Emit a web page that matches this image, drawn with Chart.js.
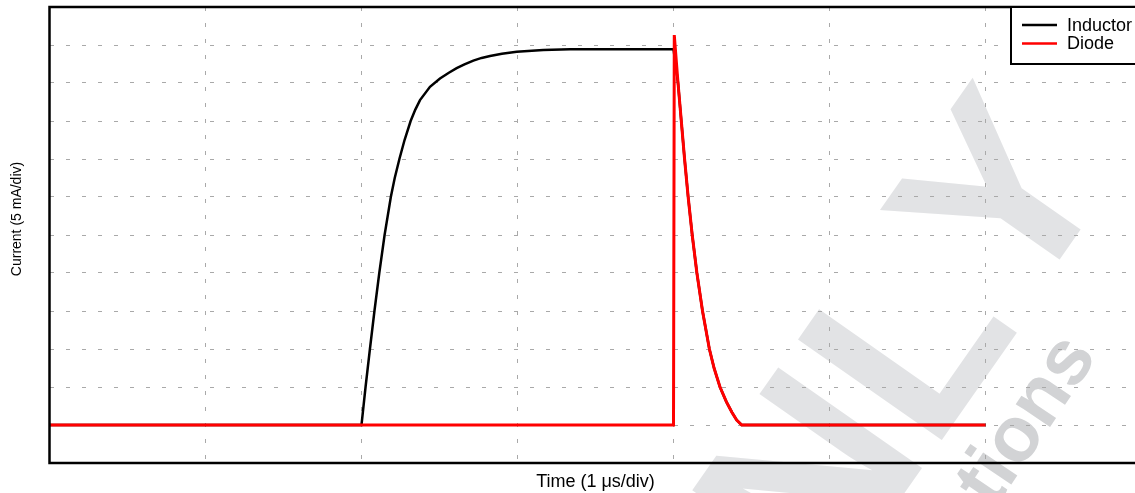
<!DOCTYPE html>
<html>
<head>
<meta charset="utf-8">
<script src="https://cdn.jsdelivr.net/npm/chart.js@4.4.1/dist/chart.umd.min.js"></script>
<style>
  html, body { margin: 0; padding: 0; background: #fff; overflow: hidden; }
  #wrap { width: 1160px; height: 493px; }
</style>
</head>
<body>
<div id="wrap"><canvas id="chart" width="1160" height="493"></canvas></div>
<script>
// all values in divisions: x = 1 us/div, y = 5 mA/div
const inductorTime = [0, 2.0, 2.026, 2.054, 2.083, 2.114, 2.148, 2.188, 2.213, 2.243, 2.276, 2.315, 2.345, 2.375,
    2.439, 2.503, 2.56, 2.61, 2.66, 2.717, 2.77, 2.824, 2.9, 2.995, 3.165, 3.337, 4.0,
    4.029, 4.05, 4.071, 4.094, 4.12, 4.15, 4.186, 4.23, 4.26, 4.298, 4.34, 4.375, 4.405, 4.437, 6.0];
const inductorCurrent = [0, 0, 1.0, 2.0, 3.0, 4.0, 5.0, 6.0, 6.5, 7.0, 7.5, 8.0, 8.3, 8.55,
    8.9, 9.12, 9.27, 9.39, 9.49, 9.59, 9.66, 9.71, 9.77, 9.82, 9.87, 9.89, 9.89,
    9.0, 8.0, 7.0, 6.0, 5.0, 4.0, 3.0, 2.0, 1.5, 1.0, 0.6, 0.33, 0.13, 0, 0];

const diodeTime = [0, 4.0, 4.005, 4.029, 4.05, 4.071, 4.094, 4.12, 4.15, 4.186, 4.23, 4.26, 4.298, 4.34, 4.375, 4.405, 4.437, 6.0];
const diodeCurrent = [0, 0, 10.26, 9.0, 8.0, 7.0, 6.0, 5.0, 4.0, 3.0, 2.0, 1.5, 1.0, 0.6, 0.33, 0.13, 0, 0];

const seriesLabels = ['Inductor', 'Diode'];
const seriesColors = ['#000000', '#ff0000'];
const xTitle = 'Time (1 \u03bcs/div)';
const yTitle = 'Current (5 mA/div)';

const FONT = '"Liberation Sans", Arial, Helvetica, sans-serif';

const toPoints = (xs, ys) => xs.map((x, i) => ({ x: x, y: ys[i] }));

// grey watermark behind everything
const watermark = {
    id: 'watermark',
    beforeDraw(chart) {
        const ctx = chart.ctx;
        ctx.save();
        ctx.fillStyle = '#e2e3e5';
        ctx.font = 'bold 255px ' + FONT;
        ctx.translate(932, 454);
        ctx.rotate(-55 * Math.PI / 180);
        const lead = ctx.measureText('ON').width;
        const wL = ctx.measureText('L').width;
        ctx.fillText('ONL', -lead, 0);
        ctx.fillText('Y', wL + 10, -7);
        ctx.restore();

        ctx.save();
        ctx.fillStyle = '#d2d3d5';
        ctx.font = 'bold 78px ' + FONT;
        ctx.translate(1098, 356);
        ctx.rotate(-56 * Math.PI / 180);
        ctx.textAlign = 'right';
        ctx.fillText('Applications', 0, 0);
        ctx.restore();
    }
};

// thick box round the plot area, plus the y title
const frame = {
    id: 'frame',
    afterDatasetsDraw(chart) {
        const { ctx, chartArea: a } = chart;
        ctx.save();
        ctx.strokeStyle = '#000';
        ctx.lineWidth = 2.5;
        ctx.strokeRect(a.left, a.top, a.right - a.left, a.bottom - a.top);

        ctx.translate(a.left - 32.5, (a.top + a.bottom) / 2 - 16);
        ctx.rotate(-Math.PI / 2);
        ctx.fillStyle = '#000';
        ctx.font = '14px ' + FONT;
        ctx.textAlign = 'center';
        ctx.textBaseline = 'middle';
        ctx.fillText(yTitle, 0, 0);
        ctx.restore();
    }
};

// boxed legend in the top right corner
const boxLegend = {
    id: 'boxLegend',
    afterDraw(chart) {
        const { ctx, chartArea: a } = chart;
        const x0 = a.right - 130.5;
        const y0 = a.top;
        ctx.save();
        ctx.fillStyle = '#fff';
        ctx.fillRect(x0, y0, a.right - x0, 57);
        ctx.strokeStyle = '#000';
        ctx.lineWidth = 2;
        ctx.strokeRect(x0, y0, a.right - x0, 57);
        ctx.font = '18px ' + FONT;
        ctx.textBaseline = 'middle';
        chart.data.datasets.forEach((ds, i) => {
            const y = y0 + 18 + i * 18.5;
            ctx.strokeStyle = ds.borderColor;
            ctx.lineWidth = 2.5;
            ctx.beginPath();
            ctx.moveTo(x0 + 11, y);
            ctx.lineTo(x0 + 46, y);
            ctx.stroke();
            ctx.fillStyle = '#000';
            ctx.fillText(ds.label, x0 + 56, y + 1);
        });
        ctx.restore();
    }
};

const gridStyle = { color: '#a9a9a9', lineWidth: 1, drawTicks: false, tickLength: 0 };
const borderStyle = { display: false, dash: [4, 12] };

new Chart(document.getElementById('chart'), {
    type: 'line',
    data: {
        datasets: [
            {
                label: seriesLabels[0],
                data: toPoints(inductorTime, inductorCurrent),
                borderColor: seriesColors[0],
                borderWidth: 2.5,
                pointRadius: 0,
                tension: 0,
                order: 1
            },
            {
                label: seriesLabels[1],
                data: toPoints(diodeTime, diodeCurrent),
                borderColor: seriesColors[1],
                borderWidth: 3,
                pointRadius: 0,
                tension: 0,
                order: 0
            }
        ]
    },
    options: {
        responsive: false,
        animation: false,
        events: [],
        layout: { padding: { left: 0, top: 7, right: 18.5, bottom: 0 } },
        plugins: {
            legend: { display: false },
            tooltip: { enabled: false }
        },
        scales: {
            x: {
                type: 'linear',
                min: 0,
                max: 7,
                ticks: { display: false, stepSize: 1 },
                grid: gridStyle,
                border: borderStyle,
                title: {
                    display: true,
                    text: xTitle,
                    color: '#000',
                    font: { family: FONT, size: 18 },
                    padding: { top: 0, bottom: 0 }
                },
                afterFit(scale) { scale.height = 30; }
            },
            y: {
                type: 'linear',
                min: -1,
                max: 11,
                ticks: { display: false, stepSize: 1 },
                grid: gridStyle,
                border: borderStyle,
                afterFit(scale) { scale.width = 49.5; }
            }
        }
    },
    plugins: [watermark, frame, boxLegend]
});
</script>
</body>
</html>
